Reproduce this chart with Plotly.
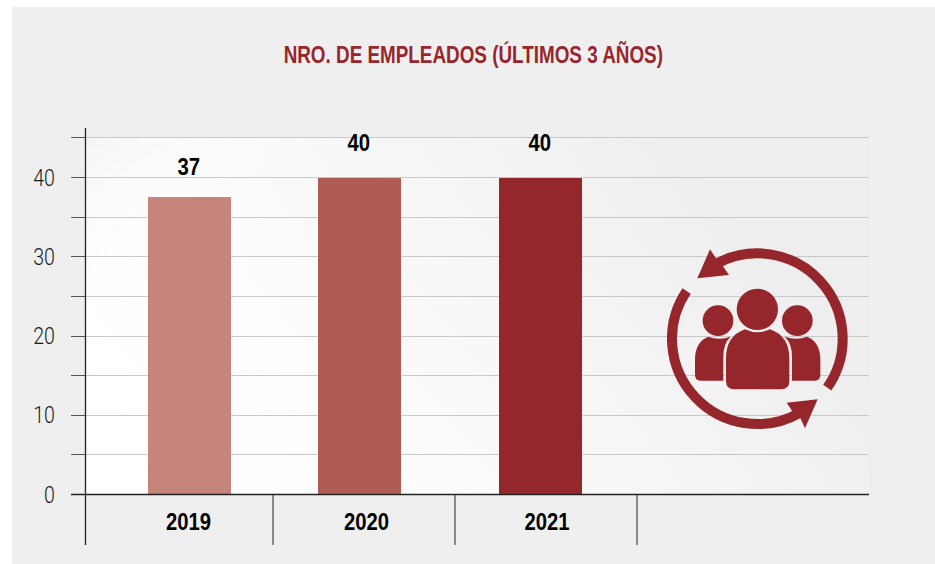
import base64
import math
import plotly.graph_objects as go

years = ["2019", "2020", "2021"]
employees = [37.5, 40, 40]
value_labels = ["37", "40", "40"]
bar_colors = ["#c5857a", "#ae5c54", "#95272c"]
y_ticks = [0, 5, 10, 15, 20, 25, 30, 35, 40, 45]
y_tick_labels = ["0", "", "10", "", "20", "", "30", "", "40", ""]

W, H = 935, 564
L, R, T, B = 85.5, 869.0, 128.0, 494.5
NARROW = "Liberation Sans, sans-serif"
LIGHT = "Roboto, Liberation Sans, sans-serif"
MAROON = "#95272c"

# pixel-like x scale: axis units equal pixels from the y axis
bar_x = [103, 273, 454]
tick_x = [103, 281, 461.5]
sep_x = [187.5, 369.5, 551.5]
label_shift = [30, 35, 35]


def px(x):
    return x / W


def py(y):
    return 1 - y / H


def uri(svg):
    return "data:image/svg+xml;base64," + base64.b64encode(svg.encode()).decode()


def arc(a0, a1, cx=352, cy=326, r=256):
    """Counter-clockwise ring segment between two angles, in icon units."""
    p = lambda a: (cx + r * math.cos(math.radians(a)), cy - r * math.sin(math.radians(a)))
    (x0, y0), (x1, y1) = p(a0), p(a1)
    return f"M{x0:.1f} {y0:.1f} A{r} {r} 0 0 0 {x1:.1f} {y1:.1f}"


bg_svg = f"""<svg xmlns='http://www.w3.org/2000/svg' width='{W}' height='{H}' viewBox='0 0 {W} {H}'>
<defs><linearGradient id='g' gradientUnits='userSpaceOnUse' x1='150' y1='470' x2='640' y2='90'>
<stop offset='0' stop-color='#ffffff'/><stop offset='0.35' stop-color='#fcfcfc'/><stop offset='1' stop-color='#eeeeee'/></linearGradient>
<linearGradient id='h' gradientUnits='userSpaceOnUse' x1='170' y1='250' x2='85' y2='125'>
<stop offset='0' stop-color='#ffffff' stop-opacity='0'/><stop offset='1' stop-color='#f4f4f4' stop-opacity='1'/></linearGradient></defs>
<rect width='{W}' height='{H}' fill='#ffffff'/>
<rect x='12' y='7' width='{W-12}' height='{H-7}' fill='#efefef'/>
<rect x='{L}' y='137.5' width='{R-L}' height='{B-137.5}' fill='url(#g)'/>
<rect x='{L}' y='137.5' width='{R-L}' height='{B-137.5}' fill='url(#h)'/>
</svg>"""

icon_svg = f"""<svg xmlns='http://www.w3.org/2000/svg' width='920' height='880' viewBox='0 0 690 660'>
<g fill='{MAROON}'>
<path d='{arc(146, 300)}' fill='none' stroke='{MAROON}' stroke-width='30'/>
<path d='{arc(-35, 120)}' fill='none' stroke='{MAROON}' stroke-width='30'/>
<polygon points='533,508 440,518 458,545 478,558 495,595'/>
<polygon points='172,145 210,58 228,85 248,107 267,135'/>
<circle cx='352' cy='238' r='62'/><circle cx='234' cy='272' r='46'/><circle cx='472' cy='272' r='46'/>
<path d='M315 298 Q352 316 390 298 Q448 318 448 385 L448 453 Q448 478 423 478 L283 478 Q258 478 258 453 L258 385 Q258 318 315 298 Z'/>
<path d='M205 320 Q236 332 272 320 Q250 340 250 380 L250 452 L182 452 Q165 452 165 435 L165 390 Q165 335 205 320 Z'/>
<path d='M501 320 Q470 332 434 320 Q456 340 456 380 L456 452 L524 452 Q541 452 541 435 L541 390 Q541 335 501 320 Z'/>
</g></svg>"""

fig = go.Figure(
    go.Bar(
        x=bar_x,
        y=employees,
        width=83,
        marker=dict(color=bar_colors, line_width=0),
        hoverinfo="skip",
    )
)

annotations = [
    dict(
        x=x, y=v, text=t, showarrow=False, yshift=s, xref="x", yref="y", yanchor="middle",
        font=dict(family=NARROW, size=23, color="#000000", weight="bold"),
    )
    for x, v, t, s in zip(bar_x, employees, value_labels, label_shift)
]
annotations.append(
    dict(
        x=px(473), y=py(55), xref="paper", yref="paper", showarrow=False, yanchor="middle",
        text="NRO. DE EMPLEADOS (ÚLTIMOS 3 AÑOS)",
        font=dict(family=NARROW, size=23, color="#98262c", weight="bold"),
    )
)

shapes = [
    dict(type="line", xref="paper", yref="paper", x0=px(L), x1=px(L), y0=py(128), y1=py(545),
         line=dict(color="#222222", width=1.3), layer="above")
]
shapes += [
    dict(type="line", xref="x", yref="paper", x0=s, x1=s, y0=py(B), y1=py(545),
         line=dict(color="#666666", width=1.5), layer="above")
    for s in sep_x
]
shapes.append(
    dict(type="line", xref="paper", yref="paper", x0=px(71), x1=px(R), y0=py(B), y1=py(B),
         line=dict(color="#222222", width=1.5), layer="above")
)

fig.update_layout(
    width=W,
    height=H,
    autosize=False,
    margin=dict(l=0, r=0, t=0, b=0),
    paper_bgcolor="#ffffff",
    plot_bgcolor="rgba(0,0,0,0)",
    showlegend=False,
    bargap=0,
    annotations=annotations,
    shapes=shapes,
    images=[
        dict(source=uri(bg_svg), xref="paper", yref="paper", x=0, y=1,
             sizex=1, sizey=1, xanchor="left", yanchor="top",
             sizing="stretch", layer="below"),
        dict(source=uri(icon_svg), xref="paper", yref="paper", x=px(640), y=py(230),
             sizex=230 / W, sizey=220 / H, xanchor="left", yanchor="top",
             sizing="stretch", layer="above"),
    ],
    xaxis=dict(
        domain=[L / W, R / W],
        range=[0, R - L],
        tickmode="array",
        tickvals=tick_x,
        ticktext=years,
        ticklen=0,
        showgrid=False,
        zeroline=False,
        showline=False,
        automargin=False,
        ticklabelstandoff=11,
        tickfont=dict(family=NARROW, size=23, color="#000000", weight="bold"),
        fixedrange=True,
    ),
    yaxis=dict(
        domain=[1 - B / H, 1 - T / H],
        range=[0, (B - T) / 7.925],
        tickmode="array",
        tickvals=y_ticks,
        ticktext=y_tick_labels,
        ticks="outside",
        ticklen=14,
        tickcolor="#555555",
        tickwidth=1.2,
        showgrid=True,
        gridcolor="#c9c9c9",
        gridwidth=1,
        zeroline=False,
        showline=False,
        automargin=False,
        ticklabelstandoff=11,
        tickfont=dict(family=LIGHT, size=23, color="#1a1a1a", weight=300),
        fixedrange=True,
    ),
)

# Condense the installed sans to match the reference's narrow face.
POST = """
document.body.style.margin='0';
document.documentElement.style.overflow='hidden';
document.querySelectorAll('svg text').forEach(function(t){
  if(!t.textContent.trim()) return;
  var n=t.getComputedTextLength();
  var isTitle=t.textContent.indexOf('NRO')===0;
  var f=isTitle?0.82:(t.closest('.ytick')?0.85:0.88);
  t.setAttribute('lengthAdjust','spacingAndGlyphs');
  t.setAttribute('textLength', n*f);
});
"""
fig.write_html("out.html", config={"displayModeBar": False}, post_script=POST)
